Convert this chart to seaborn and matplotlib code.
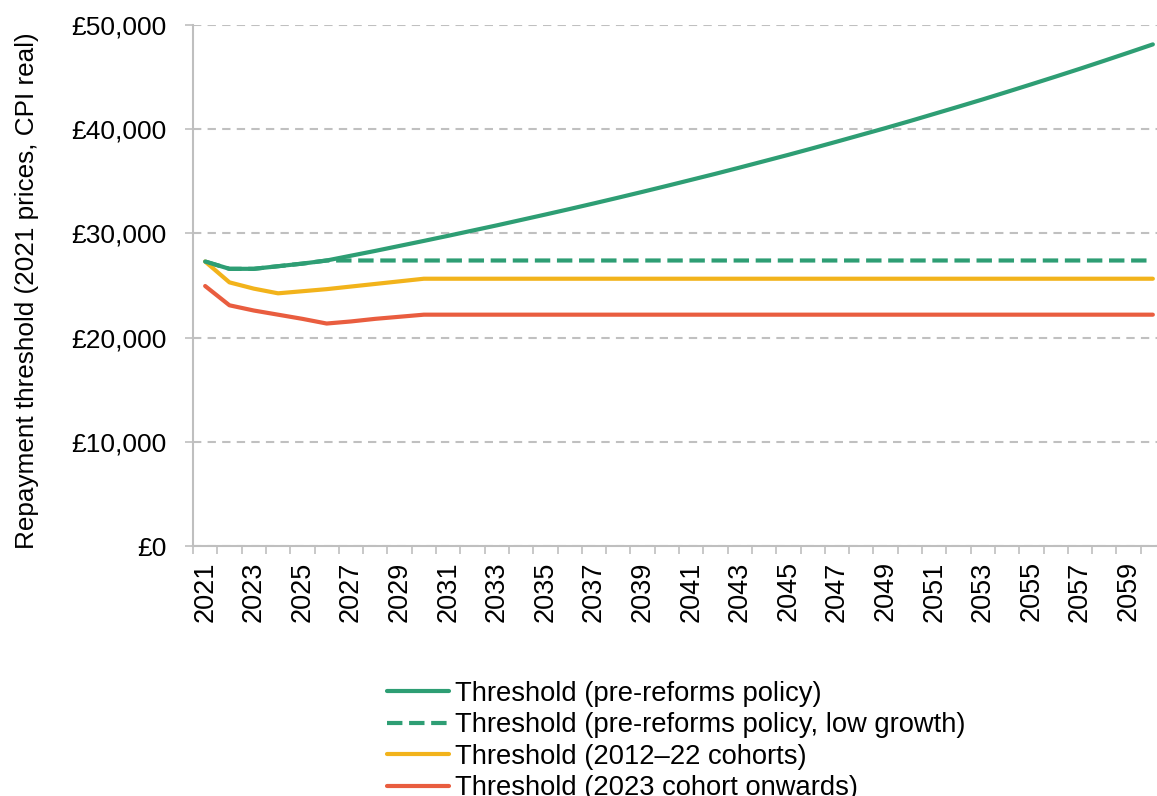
import numpy as np
import pandas as pd
import matplotlib
matplotlib.use("Agg")
import matplotlib.pyplot as plt
import seaborn as sns

# Data (£ in 2021 prices)
years = list(range(2021, 2061))

pre_reforms = [27300, 26600, 26600, 26850, 27100, 27400, 27860, 28320, 28800, 29280,
               29770, 30270, 30770, 31290, 31810, 32340, 32880, 33430, 33990, 34560,
               35140, 35720, 36320, 36930, 37540, 38170, 38810, 39460, 40110, 40780,
               41470, 42160, 42860, 43580, 44310, 45050, 45800, 46570, 47350, 48140]

pre_reforms_low = [27300, 26600, 26600, 26850, 27100, 27400] + [27400] * 34

cohorts_2012_22 = [27300, 25300, 24700, 24250, 24450, 24650, 24900, 25150, 25400, 25650] + [25650] * 30

cohort_2023 = [24950, 23100, 22600, 22200, 21800, 21350, 21550, 21800, 22000, 22200] + [22200] * 30

labels = ["Threshold (pre-reforms policy)",
          "Threshold (pre-reforms policy, low growth)",
          "Threshold (2012\u201322 cohorts)",
          "Threshold (2023 cohort onwards)"]
colors = ["#2E9E74", "#2E9E74", "#F2B31B", "#E95D3F"]
styles = ["-", "--", "-", "-"]

y_ticks = [0, 10000, 20000, 30000, 40000, 50000]
tick_years = years[::2]

sns.set_style("white")
plt.rcParams["font.family"] = ["Liberation Sans", "DejaVu Sans"]
plt.rcParams["text.color"] = "black"
plt.rcParams["xtick.labelcolor"] = "black"
plt.rcParams["ytick.labelcolor"] = "black"
plt.rcParams["axes.labelcolor"] = "black"

fig = plt.figure(figsize=(11.57, 7.96), dpi=100)
ax = fig.add_axes([193 / 1157, 1 - 546 / 796, 972 / 1157, 521 / 796])

series = [pre_reforms, pre_reforms_low, cohorts_2012_22, cohort_2023]
order = [1, 0, 2, 3]
for i in order:
    df = pd.DataFrame({"year": years, "value": series[i]})
    sns.lineplot(data=df, x="year", y="value", ax=ax, color=colors[i],
                 linestyle=styles[i], linewidth=3, label=labels[i],
                 zorder=3 if i == 0 else 2)

ax.set_xlim(2020.5, 2060.5)
ax.set_ylim(0, 50000)
ax.set_yticks(y_ticks)
ax.set_yticklabels([f"\u00a3{v:,}" for v in y_ticks], fontsize=19)
ax.set_xticks(tick_years)
ax.set_xticklabels([str(y) for y in tick_years], rotation=90, fontsize=19.5)
ax.set_xticks([y - 0.5 for y in years] + [2060.5], minor=True)

ax.tick_params(axis="x", which="major", length=0, pad=11)
ax.tick_params(axis="x", which="minor", length=6, width=1.2, color="#bfbfbf", direction="out", bottom=True)
ax.tick_params(axis="y", length=6, width=1.2, color="#bfbfbf", direction="out", left=True, pad=13)

ax.grid(axis="y", color="#c0c0c0", linestyle=(0, (4, 3)), linewidth=1.5)
ax.grid(axis="x", visible=False)
ax.set_axisbelow(True)

for side in ["top", "right"]:
    ax.spines[side].set_visible(False)
for side in ["left", "bottom"]:
    ax.spines[side].set_color("#bfbfbf")
    ax.spines[side].set_linewidth(1.5)

ax.set_xlabel("")
ax.set_ylabel("Repayment threshold (2021 prices, CPI real)", fontsize=18.8)
ax.yaxis.set_label_coords(-0.158, 0.49)

handles, lbls = ax.get_legend_handles_labels()
ax.get_legend().remove()
lookup = dict(zip(lbls, handles))
fig.legend([lookup[l] for l in labels], labels, loc="upper left",
           bbox_to_anchor=(387 / 1157, 1 - 681 / 796), frameon=False,
           fontsize=19.7, handlelength=2.25, handletextpad=0.25,
           labelspacing=0.2, borderpad=0, borderaxespad=0)

fig.savefig("out.png", dpi=100)
